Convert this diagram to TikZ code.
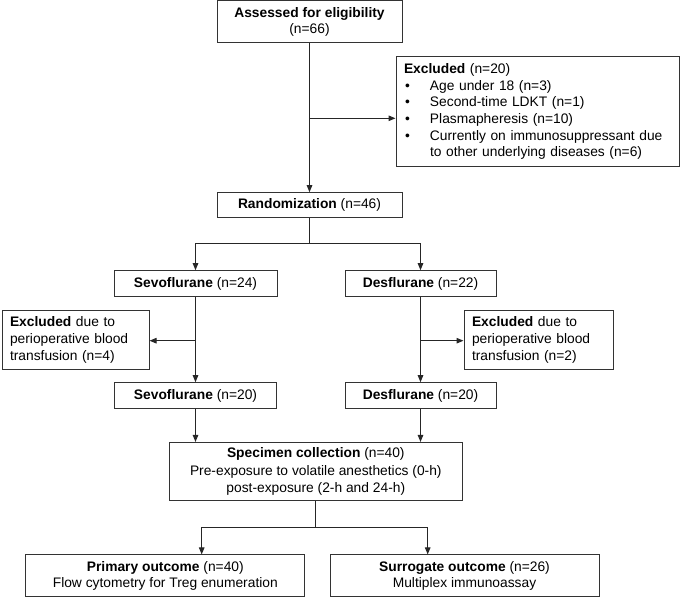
\documentclass[tikz,border=0pt]{standalone}
\usepackage{fontspec}
\setmainfont{Liberation Sans}
\usetikzlibrary{arrows.meta}
\tikzset{
  box/.style={draw=black!80, line width=1pt, inner sep=0pt, align=center,
    font=\fontsize{13.8pt}{16.7pt}\selectfont},
  lbox/.style={box, align=left, inner xsep=8pt},
  arr/.style={-{Triangle[length=7pt,width=5.5pt]}, line width=1pt, draw=black!85},
  ln/.style={line width=1pt, draw=black!85}
}
\begin{document}
\begin{tikzpicture}[x=1pt, y=-1pt]
\useasboundingbox (0,0) rectangle (685,599);

\node[box, minimum width=185pt, minimum height=42pt] (assess) at (309.5,22)
  {\textbf{Assessed for eligibility}\\(n=66)};
\node[lbox, text width=267pt, minimum height=109pt] (excl) at (537.5,111.5)
  {\textbf{Excluded} (n=20)\\
   \hspace*{1pt}\makebox[25pt][l]{•}Age under 18 (n=3)\\
   \hspace*{1pt}\makebox[25pt][l]{•}Second-time LDKT (n=1)\\
   \hspace*{1pt}\makebox[25pt][l]{•}Plasmapheresis (n=10)\\
   \hspace*{1pt}\makebox[25pt][l]{•}Currently on immunosuppressant due\\
   \hspace*{26pt}to other underlying diseases (n=6)};
\node[box, minimum width=185pt, minimum height=25pt] (rand) at (309.5,205.2)
  {\textbf{Randomization} (n=46)};
\node[box, minimum width=163pt, minimum height=26pt] (sevo1) at (195.5,283.7)
  {\textbf{Sevoflurane} (n=24)};
\node[box, minimum width=151pt, minimum height=26pt] (desf1) at (420.5,283.7)
  {\textbf{Desflurane} (n=22)};
\node[lbox, text width=131pt, minimum height=58.6pt] (exL) at (75.5,340)
  {\textbf{Excluded} due to\\perioperative blood\\transfusion (n=4)};
\node[lbox, text width=133.5pt, minimum height=58.6pt] (exR) at (538.75,340)
  {\textbf{Excluded} due to\\perioperative blood\\transfusion (n=2)};
\node[box, minimum width=162.5pt, minimum height=25.6pt] (sevo2) at (195.5,395.5)
  {\textbf{Sevoflurane} (n=20)};
\node[box, minimum width=151pt, minimum height=25.6pt] (desf2) at (420.5,395.5)
  {\textbf{Desflurane} (n=20)};
\node[box, minimum width=293pt, minimum height=58.5pt,
  font=\fontsize{13.8pt}{17.5pt}\selectfont] (spec) at (315.8,471.7)
  {\textbf{Specimen collection} (n=40)\\Pre-exposure to volatile anesthetics (0-h)\\post-exposure (2-h and 24-h)};
\node[box, minimum width=279.3pt, minimum height=41.7pt] (prim) at (165.3,575.8)
  {\textbf{Primary outcome} (n=40)\\Flow cytometry for Treg enumeration};
\node[box, minimum width=269pt, minimum height=41.7pt] (surr) at (464.5,575.8)
  {\textbf{Surrogate outcome} (n=26)\\Multiplex immunoassay};

% connectors
\draw[arr] (assess) -- (rand);
\coordinate (j1) at (309.5,118.3);
\draw[arr] (j1) -- (j1 -| excl.west);

\coordinate (j2) at (309.5,243.3);
\draw[ln] (rand.south) -- (j2);
\draw[arr] (j2) -| (sevo1.north);
\draw[arr] (j2) -| (desf1.north);

\draw[arr] (sevo1) -- (sevo2);
\draw[arr] (desf1) -- (desf2);
\coordinate (j3) at (195.5,340.7);
\draw[arr] (j3) -- (j3 -| exL.east);
\coordinate (j4) at (420.5,340.7);
\draw[arr] (j4) -- (j4 -| exR.west);

\draw[arr] (sevo2.south) -- (sevo2.south |- spec.north);
\draw[arr] (desf2.south) -- (desf2.south |- spec.north);

\coordinate (j5) at (315.7,527.7);
\coordinate (pa) at (201.7,527.7);
\coordinate (sa) at (427.7,527.7);
\draw[ln] (spec.south -| j5) -- (j5);
\draw[arr] (j5) -- (pa) -- (pa |- prim.north);
\draw[arr] (j5) -- (sa) -- (sa |- surr.north);
\end{tikzpicture}
\end{document}
